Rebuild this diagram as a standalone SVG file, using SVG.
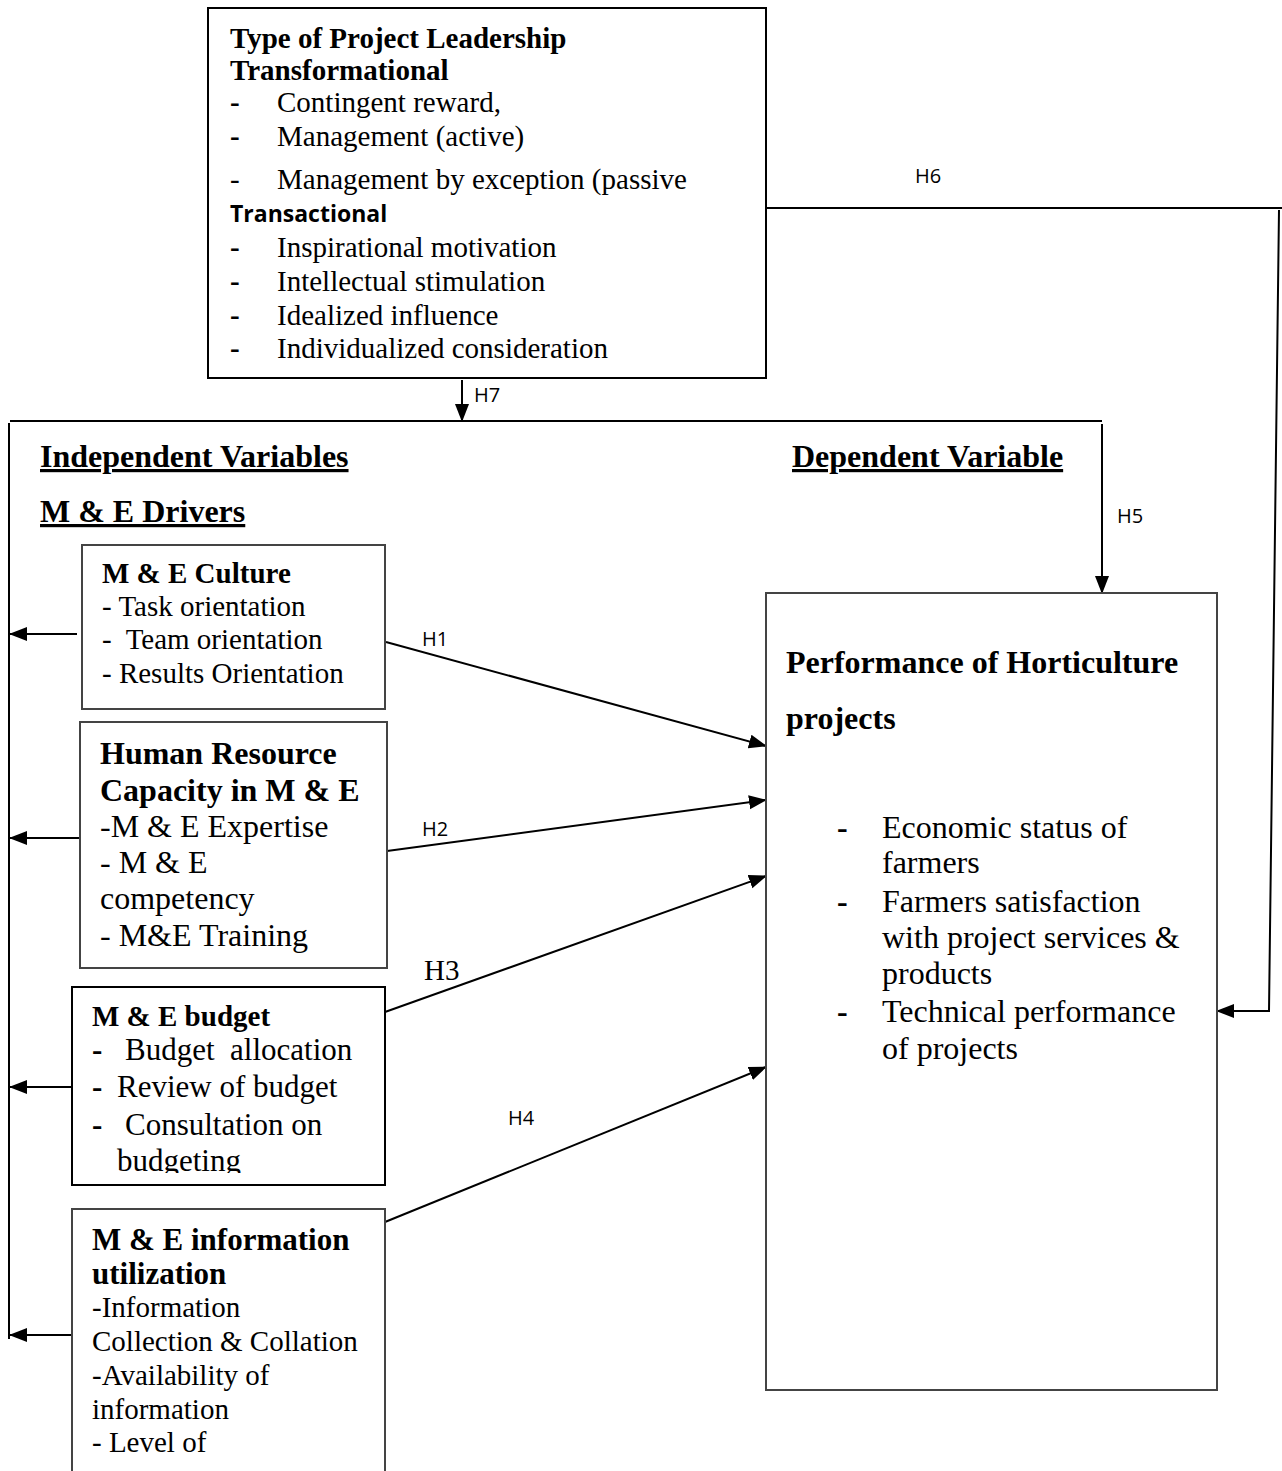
<svg xmlns="http://www.w3.org/2000/svg" width="1282" height="1471" viewBox="0 0 1282 1471">
<defs>
<marker id="ah" markerUnits="userSpaceOnUse" markerWidth="18" markerHeight="16" refX="17" refY="8" orient="auto"><path d="M0,1 L18,8 L0,15 Z" fill="#000"/></marker>
<clipPath id="clip3"><rect x="72" y="987" width="313" height="186"/></clipPath>
</defs>
<style>
.box{fill:#fff;stroke:#000;stroke-width:2}
.gbox{fill:#fff;stroke:#444;stroke-width:2}
.t{font-family:"Liberation Serif","Times New Roman",serif;fill:#000;white-space:pre}
.b{font-weight:bold}
.s{font-family:"Open Sans","Liberation Sans",sans-serif;fill:#000}
.c{fill:none;stroke:#000;stroke-width:2}
.u{text-decoration:underline}
</style>
<rect width="1282" height="1471" fill="#fff"/>

<g id="connectors">
  <line class="c" x1="462" y1="380" x2="462" y2="421" marker-end="url(#ah)"/>
  <line class="c" x1="10" y1="421" x2="1102" y2="421"/>
  <line class="c" x1="9" y1="423" x2="9" y2="1339"/>
  <line class="c" x1="1102" y1="424" x2="1102" y2="593" marker-end="url(#ah)"/>
  <line class="c" x1="766" y1="208" x2="1282" y2="208"/>
  <polyline class="c" points="1279,210 1269,1011 1217,1011" marker-end="url(#ah)"/>
  <line class="c" x1="77" y1="634" x2="10" y2="634" marker-end="url(#ah)"/>
  <line class="c" x1="80" y1="838" x2="10" y2="838" marker-end="url(#ah)"/>
  <line class="c" x1="72" y1="1087" x2="10" y2="1087" marker-end="url(#ah)"/>
  <line class="c" x1="72" y1="1335" x2="10" y2="1335" marker-end="url(#ah)"/>
  <line class="c" x1="386" y1="642" x2="766" y2="746" marker-end="url(#ah)"/>
  <line class="c" x1="387" y1="851" x2="766" y2="800" marker-end="url(#ah)"/>
  <line class="c" x1="385" y1="1012" x2="766" y2="876" marker-end="url(#ah)"/>
  <line class="c" x1="385" y1="1222" x2="766" y2="1067" marker-end="url(#ah)"/>
  <text class="s" x="474" y="402" font-size="20">H7</text>
  <text class="s" x="915" y="183" font-size="20">H6</text>
  <text class="s" x="1117" y="523" font-size="20">H5</text>
  <text class="s" x="422" y="646" font-size="20">H1</text>
  <text class="s" x="422" y="836" font-size="20">H2</text>
  <text class="t" x="424" y="980" font-size="29">H3</text>
  <text class="s" x="508" y="1125" font-size="20">H4</text>
</g>

<g id="leadership">
  <rect class="box" x="208" y="8" width="558" height="370"/>
  <g class="t" font-size="29">
    <text class="b" x="230" y="48">Type of Project Leadership</text>
    <text class="b" x="230" y="80">Transformational</text>
    <text class="b" x="230" y="112">-</text><text x="277" y="112">Contingent reward,</text>
    <text class="b" x="230" y="146">-</text><text x="277" y="146">Management (active)</text>
    <text x="230" y="189">-</text><text x="277" y="189">Management by exception (passive</text>
    <text class="b" x="230" y="257">-</text><text x="277" y="257">Inspirational motivation</text>
    <text class="b" x="230" y="291">-</text><text x="277" y="291">Intellectual stimulation</text>
    <text class="b" x="230" y="325">-</text><text x="277" y="325">Idealized influence</text>
    <text class="b" x="230" y="358">-</text><text x="277" y="358">Individualized consideration</text>
  </g>
  <text class="s b" x="230" y="222" font-size="23">Transactional</text>
</g>

<g id="headings" class="t b" font-size="32">
  <text class="u" x="40" y="467">Independent Variables</text>
  <text class="u" x="40" y="522">M &amp; E Drivers</text>
  <text class="u" x="792" y="467">Dependent Variable</text>
</g>

<g id="culture">
  <rect class="gbox" x="82" y="545" width="303" height="164"/>
  <g class="t" font-size="29">
    <text class="b" x="102" y="583">M &amp; E Culture</text>
    <text x="102" y="616">- Task orientation</text>
    <text x="102" y="649" xml:space="preserve">-  Team orientation</text>
    <text x="102" y="683">- Results Orientation</text>
  </g>
</g>

<g id="hr-capacity">
  <rect class="gbox" x="80" y="722" width="307" height="246"/>
  <g class="t" font-size="32">
    <text class="b" x="100" y="764">Human Resource</text>
    <text class="b" x="100" y="801">Capacity in M &amp; E</text>
    <text x="100" y="837">-M &amp; E Expertise</text>
    <text x="100" y="873">- M &amp; E</text>
    <text x="100" y="909">competency</text>
    <text x="100" y="946">- M&amp;E Training</text>
  </g>
</g>

<g id="budget">
  <rect class="box" x="72" y="987" width="313" height="198"/>
  <g class="t" font-size="31" clip-path="url(#clip3)">
    <text class="b" x="92" y="1026" font-size="29">M &amp; E budget</text>
    <text class="b" x="92" y="1060">-</text><text x="125" y="1060" xml:space="preserve">Budget  allocation</text>
    <text class="b" x="92" y="1097">-</text><text x="117" y="1097">Review of budget</text>
    <text class="b" x="92" y="1135">-</text><text x="125" y="1135">Consultation on</text>
    <text x="117" y="1171">budgeting</text>
  </g>
</g>

<g id="information">
  <rect class="gbox" x="72" y="1209" width="313" height="280"/>
  <g class="t" font-size="29">
    <text class="b" x="92" y="1250" font-size="31">M &amp; E information</text>
    <text class="b" x="92" y="1284" font-size="31">utilization</text>
    <text x="92" y="1317">-Information</text>
    <text x="92" y="1351">Collection &amp; Collation</text>
    <text x="92" y="1385">-Availability of</text>
    <text x="92" y="1419">information</text>
    <text x="92" y="1452">- Level of</text>
  </g>
</g>

<g id="performance">
  <rect class="gbox" x="766" y="593" width="451" height="797"/>
  <g class="t" font-size="32">
    <text class="b" x="786" y="673">Performance of Horticulture</text>
    <text class="b" x="786" y="729">projects</text>
    <text class="b" x="837" y="838">-</text><text x="882" y="838">Economic status of</text>
    <text x="882" y="873">farmers</text>
    <text class="b" x="837" y="912">-</text><text x="882" y="912">Farmers satisfaction</text>
    <text x="882" y="948">with project services &amp;</text>
    <text x="882" y="984">products</text>
    <text class="b" x="837" y="1022">-</text><text x="882" y="1022">Technical performance</text>
    <text x="882" y="1059">of projects</text>
  </g>
</g>
</svg>
